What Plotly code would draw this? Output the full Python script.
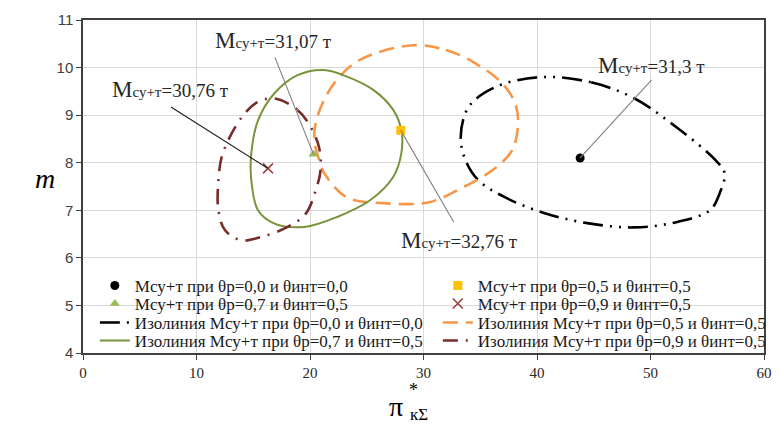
import plotly.graph_objects as go

# ---- data -----------------------------------------------------------------
# optimum points (π*кΣ, m) and corresponding masses
opt_names = [
    "Мсу+т при θр=0,0 и θинт=0,0",
    "Мсу+т при θр=0,5 и θинт=0,5",
    "Мсу+т при θр=0,7 и θинт=0,5",
    "Мсу+т при θр=0,9 и θинт=0,5",
]
opt_x = [43.8, 28.0, 20.3, 16.3]
opt_y = [8.10, 8.68, 8.18, 7.88]
opt_mass = ["31,3", "32,76", "31,07", "30,76"]

# label anchor (text centre) and leader-line start for each optimum
label_x = [50.05, 33.2, 16.8, 7.75]
label_y = [10.05, 6.37, 10.56, 9.54]
leader_x = [50.1, 32.67, 16.9, 7.75]
leader_y = [9.74, 6.75, 10.22, 9.17]

# isolines of the take-off mass
iso_names = [
    "Изолиния Мсу+т при θр=0,0 и θинт=0,0",
    "Изолиния Мсу+т при θр=0,5 и θинт=0,5",
    "Изолиния Мсу+т при θр=0,7 и θинт=0,5",
    "Изолиния Мсу+т при θр=0,9 и θинт=0,5",
]
iso00_x = [40.42, 44.77, 48.52, 52.26, 55.75, 56.53, 56.10, 55.23, 52.26, 48.52,
           44.43, 40.68, 37.20, 34.84, 33.71, 33.28, 33.97, 36.32]
iso00_y = [9.80, 9.69, 9.36, 8.75, 8.05, 7.78, 7.36, 7.00, 6.75, 6.64,
           6.73, 6.94, 7.27, 7.63, 8.05, 8.54, 9.17, 9.59]
iso05_x = [29.09, 31.97, 34.58, 36.93, 38.07, 38.33, 37.80, 36.06, 33.45, 30.49,
           26.48, 23.26, 21.25, 20.91, 20.38, 20.64, 22.13, 24.39]
iso05_y = [10.47, 10.37, 10.09, 9.67, 9.25, 8.83, 8.26, 7.84, 7.48, 7.17,
           7.15, 7.27, 7.78, 7.99, 8.47, 8.96, 9.67, 10.16]
iso07_x = [21.23, 23.26, 25.58, 27.33, 28.05, 28.05, 27.33, 25.29, 22.39, 19.49,
           16.87, 15.42, 14.83, 14.83, 15.42, 16.87, 18.90]
iso07_y = [9.95, 9.81, 9.53, 9.11, 8.68, 8.20, 7.70, 7.21, 6.86, 6.65,
           6.72, 7.00, 7.63, 8.20, 8.89, 9.46, 9.84]
iso09_x = [16.87, 18.90, 20.06, 20.79, 20.93, 20.50, 19.63, 18.03, 15.71, 13.96,
           12.52, 11.93, 11.93, 12.22, 13.09, 14.26, 15.42]
iso09_y = [9.35, 9.11, 8.75, 8.33, 7.84, 7.42, 6.93, 6.65, 6.44, 6.37,
           6.58, 7.00, 7.63, 8.12, 8.61, 9.04, 9.28]

x_ticks = [0, 10, 20, 30, 40, 50, 60]
y_ticks = [4, 5, 6, 7, 8, 9, 10, 11]

# ---- styles ----------------------------------------------------------------
SERIF = "Liberation Serif"
W, H = 782, 426
ML, MR, MT, MB = 83, 10, 20, 73
PW, PH = W - ML - MR, H - MT - MB


def px_x(p):
    """pixel column -> paper x"""
    return (p - ML) / PW


def px_y(p):
    """pixel row -> paper y"""
    return (H - MB - p) / PH


opt_marker = [
    dict(symbol="circle", size=9, color="#000000"),
    dict(symbol="square", size=9, color="#FFC000"),
    dict(symbol="triangle-up", size=9, color="#9BBB59"),
    dict(symbol="x-thin", size=10, line=dict(width=1.6, color="#A0403D")),
]
iso_line = [
    dict(color="#000000", width=2.6, dash="20px,7px,2px,7px,2px,7px"),
    dict(color="#F79646", width=2.6, dash="15px,8px"),
    dict(color="#77933C", width=2.0),
    dict(color="#772C2A", width=2.6, dash="15px,8px,2px,8px"),
]
iso_data = [(iso00_x, iso00_y), (iso05_x, iso05_y), (iso07_x, iso07_y), (iso09_x, iso09_y)]

# legend grid: 2 columns x 4 rows, one single-entry legend per cell
col_left = [95, 442, 95, 442]          # pixel x of legend box for points / isolines
row_pts = [286, 286, 304, 304]
row_iso = [323, 323, 341, 341]
opt_legend = ["legend", "legend2", "legend3", "legend4"]
iso_legend = ["legend5", "legend6", "legend7", "legend8"]

fig = go.Figure()

# white panel behind the legend block (hides the grid there)
fig.add_shape(type="rect", xref="paper", yref="paper", layer="between",
              x0=px_x(86), x1=px_x(770), y0=px_y(351), y1=px_y(276),
              fillcolor="white", line=dict(width=0))

# closed isolines (first point repeated to close the curve)
for name, (xs, ys), ln, lg in zip(iso_names, iso_data, iso_line, iso_legend):
    fig.add_trace(go.Scatter(
        x=list(xs) + [xs[0]], y=list(ys) + [ys[0]], mode="lines", name=name,
        line=dict(shape="spline", smoothing=1.0, **ln), legend=lg,
    ))

# leader lines from the labels to the optimum points
leader_color = ["#808080", "#808080", "#808080", "#1a1a1a"]
for i in range(len(opt_x)):
    fig.add_shape(type="line", xref="x", yref="y",
                  x0=leader_x[i], y0=leader_y[i], x1=opt_x[i], y1=opt_y[i],
                  line=dict(color=leader_color[i], width=1.1))

# optimum points
for name, xv, yv, mk, lg in zip(opt_names, opt_x, opt_y, opt_marker, opt_legend):
    fig.add_trace(go.Scatter(x=[xv], y=[yv], mode="markers", name=name,
                             marker=mk, legend=lg))

# mass labels
for i in range(len(opt_x)):
    fig.add_annotation(
        x=label_x[i], y=label_y[i], xref="x", yref="y", showarrow=False,
        xanchor="center", yanchor="middle",
        text=("<span style='font-size:23px'>М</span>"
              "<span style='font-size:15px'>су+т</span>"
              f"={opt_mass[i]} т"),
        font=dict(family=SERIF, size=19, color="#262626"),
    )

# axis titles
def title_piece(px, py, txt, size):
    fig.add_annotation(xref="paper", yref="paper", x=px_x(px), y=px_y(py),
                       xanchor="center", yanchor="middle", text=txt,
                       showarrow=False,
                       font=dict(family=SERIF, size=size, color="#000000"))


title_piece(45, 178, "<i>m</i>", 28)
title_piece(400, 406, "π", 28)
title_piece(417, 390, "*", 18)
title_piece(423, 414, "кΣ", 17)

layout_legends = {}
for lg, xpix, ypix in zip(opt_legend + iso_legend, col_left + col_left, row_pts + row_iso):
    layout_legends[lg] = dict(
        x=px_x(xpix), y=px_y(ypix), xanchor="left", yanchor="middle",
        bgcolor="rgba(0,0,0,0)", borderwidth=0, orientation="v",
        font=dict(family=SERIF, size=17, color="#1a1a1a"), itemwidth=30,
    )

fig.update_layout(
    width=W, height=H,
    margin=dict(l=ML, r=MR, t=MT, b=MB),
    paper_bgcolor="white", plot_bgcolor="white",
    showlegend=True,
    xaxis=dict(
        range=[0, 60], tickvals=x_ticks, ticks="outside", ticklen=5,
        tickcolor="#404040", showgrid=True, gridcolor="#d9d9d9", gridwidth=1,
        showline=True, linecolor="#404040", linewidth=1.5, mirror=True,
        zeroline=False, tickfont=dict(family=SERIF, size=15, color="#262626"),
    ),
    yaxis=dict(
        range=[4, 11], tickvals=y_ticks, ticks="outside", ticklen=5,
        tickcolor="#404040", showgrid=True, gridcolor="#d9d9d9", gridwidth=1,
        showline=True, linecolor="#404040", linewidth=1.5, mirror=True,
        zeroline=False, tickfont=dict(family="Liberation Sans", size=15, color="#404040"),
    ),
    **layout_legends,
)

fig.write_html("out.html")
